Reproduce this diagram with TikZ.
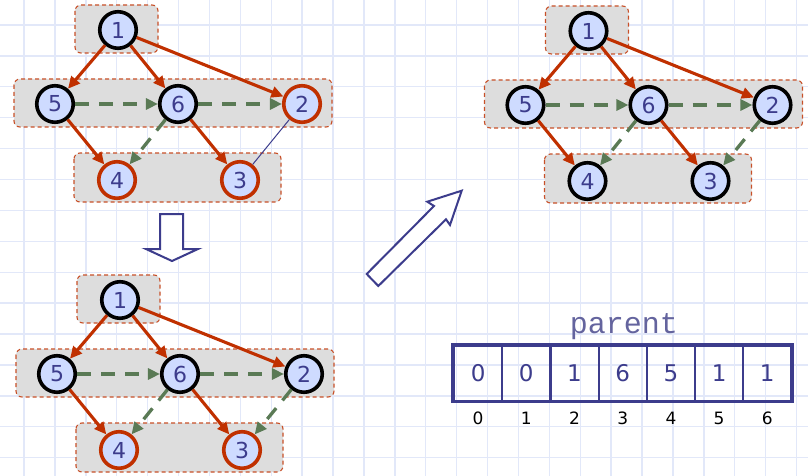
\documentclass[tikz,border=0pt]{standalone}
\usepackage{fontspec}
\setmainfont{DejaVu Sans}
\newfontfamily\arrfont{Liberation Mono}
\usetikzlibrary{arrows.meta}

\definecolor{edgered}{RGB}{192,48,0}
\definecolor{dashgreen}{RGB}{90,122,85}
\definecolor{inkblue}{RGB}{60,60,140}
\definecolor{nodefill}{RGB}{206,219,255}
\definecolor{boxgray}{RGB}{221,221,221}
\definecolor{boxedge}{RGB}{200,80,40}
\definecolor{gridblue}{RGB}{226,232,249}
\definecolor{labelblue}{RGB}{100,100,158}

\tikzset{
  gridline/.style={draw=gridblue, line width=1.4pt},
  vert/.style={circle, draw=black, line width=3.6pt, fill=nodefill,
    minimum size=36.5pt, inner sep=0pt, text=inkblue,
    font=\fontsize{22}{26}\selectfont},
  vred/.style={vert, draw=edgered},
  tree/.style={draw=edgered, line width=3.1pt,
    -{Triangle[length=12pt,width=11pt]}},
  cross/.style={draw=dashgreen, line width=3.3pt, dash pattern=on 14pt off 10pt,
    -{Triangle[length=12pt,width=11pt]}},
  thinlink/.style={draw=inkblue, line width=1pt},
  grp/.style={fill=boxgray, draw=boxedge, line width=1.1pt,
    dash pattern=on 4pt off 3pt, rounded corners=6pt},
  blockarrow/.style={draw=inkblue, fill=white, line width=2pt, line join=miter},
  cell/.style={draw=inkblue, line width=2.2pt, minimum width=48.2pt,
    minimum height=55pt, inner sep=0pt, text=inkblue,
    font=\fontsize{23}{26}\selectfont},
  idx/.style={text=black, font=\fontsize{17}{20}\selectfont, inner sep=0pt},
}

\begin{document}
\begin{tikzpicture}[x=1pt,y=-1pt]
\useasboundingbox (0,0) rectangle (808,476);
\fill[white] (0,0) rectangle (808,476);

% background grid
\foreach \i in {0,...,25}
  \draw[gridline] ({24+30.9*\i},0) -- ({24+30.9*\i},476);
\foreach \j in {0,...,14}
  \draw[gridline] (0,{25+30.9*\j}) -- (808,{25+30.9*\j});

% ---------- panel A: top left ----------
\begin{scope}
  \draw[grp] (75,5) rectangle (158,53);
  \draw[grp] (14,79) rectangle (332,127);
  \draw[grp] (74,153) rectangle (281,202);
  \node[vert] (a1) at (118,30) {1};
  \node[vert] (a5) at (55,104) {5};
  \node[vert] (a6) at (178,104) {6};
  \node[vred] (a2) at (302,104) {2};
  \node[vred] (a4) at (117,180) {4};
  \node[vred] (a3) at (240,180) {3};
  \draw[tree] (a1) -- (a5);
  \draw[tree] (a1) -- (a6);
  \draw[tree] (a1) -- (a2);
  \draw[tree] (a5) -- (a4);
  \draw[tree] (a6) -- (a3);
  \draw[cross] (a5) -- (a6);
  \draw[cross] (a6) -- (a2);
  \draw[cross] (a6) -- (a4);
  \draw[thinlink] (a2) -- (a3);
\end{scope}

% ---------- panel B: bottom left ----------
\begin{scope}[shift={(2,270)}]
  \draw[grp] (75,5) rectangle (158,53);
  \draw[grp] (14,79) rectangle (332,127);
  \draw[grp] (74,153) rectangle (281,202);
  \node[vert] (b1) at (118,30) {1};
  \node[vert] (b5) at (55,104) {5};
  \node[vert] (b6) at (178,104) {6};
  \node[vert] (b2) at (302,104) {2};
  \node[vred] (b4) at (117,180) {4};
  \node[vred] (b3) at (240,180) {3};
  \draw[tree] (b1) -- (b5);
  \draw[tree] (b1) -- (b6);
  \draw[tree] (b1) -- (b2);
  \draw[tree] (b5) -- (b4);
  \draw[tree] (b6) -- (b3);
  \draw[cross] (b5) -- (b6);
  \draw[cross] (b6) -- (b2);
  \draw[cross] (b6) -- (b4);
  \draw[cross] (b2) -- (b3);
\end{scope}

% ---------- panel C: top right ----------
\begin{scope}[shift={(470.5,1)}]
  \draw[grp] (75,5) rectangle (158,53);
  \draw[grp] (14,79) rectangle (332,127);
  \draw[grp] (74,153) rectangle (281,202);
  \node[vert] (c1) at (118,30) {1};
  \node[vert] (c5) at (55,104) {5};
  \node[vert] (c6) at (178,104) {6};
  \node[vert] (c2) at (302,104) {2};
  \node[vert] (c4) at (117,180) {4};
  \node[vert] (c3) at (240,180) {3};
  \draw[tree] (c1) -- (c5);
  \draw[tree] (c1) -- (c6);
  \draw[tree] (c1) -- (c2);
  \draw[tree] (c5) -- (c4);
  \draw[tree] (c6) -- (c3);
  \draw[cross] (c5) -- (c6);
  \draw[cross] (c6) -- (c2);
  \draw[cross] (c6) -- (c4);
  \draw[cross] (c2) -- (c3);
\end{scope}

% hollow block arrows between panels
\draw[blockarrow] (160,214) -- (183,214) -- (183,249) -- (198,249)
  -- (172,261) -- (146,249) -- (160,249) -- cycle;
\draw[blockarrow] (366.7,274) -- (434,206) -- (427.3,201.7) -- (461.7,190.7)
  -- (450,225) -- (446,219.3) -- (378.3,286) -- cycle;

% parent array
\node[anchor=base, text=labelblue, font=\arrfont\fontsize{30}{30}\selectfont]
  (plabel) at (624,333) {parent};
\foreach \v [count=\k from 0] in {0,0,1,6,5,1,1} {
  \node[cell] (p\k) at ({478.1+48.2*\k},373.2) {\v};
  \node[idx] (i\k) at ({478.1+48.2*\k},418.3) {\k};
}
\draw[draw=inkblue, line width=3pt] (p0.north west) rectangle (p6.south east);
\end{tikzpicture}
\end{document}
